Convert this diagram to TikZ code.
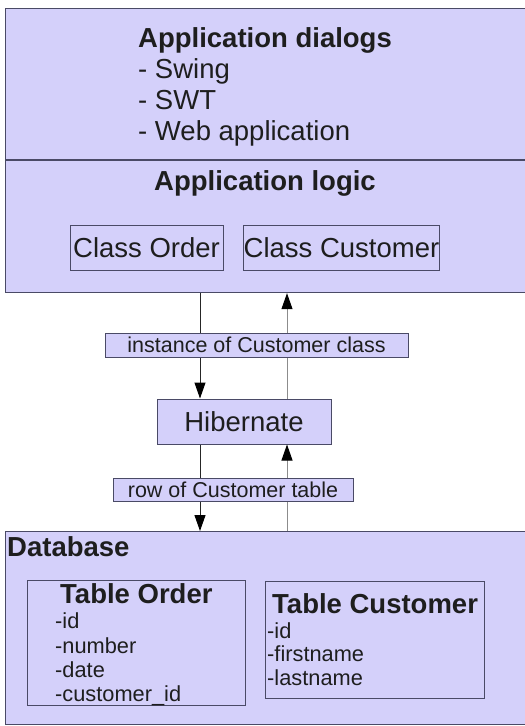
\documentclass[tikz,border=0pt]{standalone}
\usepackage{fontspec}
\setmainfont{Liberation Sans}
\usetikzlibrary{arrows.meta}
\definecolor{lav}{HTML}{D4D0FA}
\definecolor{edge}{HTML}{4A4A66}
\definecolor{ink}{HTML}{1E1E1E}
\begin{document}
\begin{tikzpicture}[x=1pt,y=-1pt,
  layer/.style={draw=edge, fill=lav, line width=1.2pt, inner sep=0pt},
  boxnode/.style={draw=edge, fill=lav, line width=1pt, inner sep=0pt, text=ink, font=\fontsize{27.5}{32}\selectfont},
  lbl/.style={draw=edge, fill=lav, line width=1pt, inner sep=0pt, text=ink, font=\fontsize{21.5}{25}\selectfont},
  big/.style={anchor=base west, inner sep=0pt, text=ink, font=\fontsize{27.5}{32}\selectfont},
  bigb/.style={anchor=base west, inner sep=0pt, text=ink, font=\bfseries\fontsize{27.5}{32}\selectfont},
  item/.style={anchor=base west, inner sep=0pt, text=ink, font=\fontsize{21.8}{25}\selectfont},
  tbl/.style={draw=edge, line width=1pt, inner sep=0pt, anchor=north west},
  arr/.style={line width=1pt, -{Triangle[width=11pt,length=16pt,color=black]}}]
\useasboundingbox (0,0) rectangle (525,726);
\fill[white] (0,0) rectangle (525,726);
% application layer
\node[layer, anchor=north west, minimum width=530pt, minimum height=284pt] (app) at (5,8) {};
\draw[edge, line width=1.2pt] (app.west |- 0,160) -- (app.east |- 0,160);
\node[bigb] (dlg) at (138,47) {Application dialogs};
\node[big] (sw) at (138,78) {- Swing};
\node[big] (swt) at (138,109) {- SWT};
\node[big] (web) at (138,140) {- Web application};
\node[bigb, anchor=base] (logic) at (265,190) {Application logic};
\node[boxnode, minimum width=153pt, minimum height=45pt] (co) at (146.5,247.5) {Class Order};
\node[boxnode, minimum width=195pt, minimum height=45pt] (cc) at (341.5,247.5) {Class Customer};
% hibernate
\node[boxnode, minimum width=174pt, minimum height=45pt] (hib) at (244,421.5) {Hibernate};
% database layer
\node[layer, anchor=north west, minimum width=530pt, minimum height=193pt] (db) at (5,531) {};
\node[bigb] (dbt) at (7,556) {Database};
\node[tbl, minimum width=218pt, minimum height=125pt] (to) at (27,580) {};
\node[bigb] (tot) at (60,603) {Table Order};
\node[item] (to1) at (55,628) {-id};
\node[item] (to2) at (55,653) {-number};
\node[item] (to3) at (55,677) {-date};
\node[item] (to4) at (55,701) {-customer\_id};
\node[tbl, minimum width=219pt, minimum height=117pt] (tc) at (265,581) {};
\node[bigb] (tct) at (272,613) {Table Customer};
\node[item] (tc1) at (267,638) {-id};
\node[item] (tc2) at (267,661) {-firstname};
\node[item] (tc3) at (267,685) {-lastname};
% connectors
\coordinate (lx) at (200,0);
\coordinate (rx) at (287,0);
\draw[arr, color=black!85] (app.south -| lx) -- (hib.north -| lx);
\draw[arr, color=black!45] (hib.north -| rx) -- (app.south -| rx);
\draw[arr, color=black!85] (hib.south -| lx) -- (db.north -| lx);
\draw[arr, color=black!45] (db.north -| rx) -- (hib.south -| rx);
\node[lbl, minimum width=303pt, minimum height=24pt] (inst) at (256.5,345) {instance of Customer class};
\node[lbl, minimum width=240pt, minimum height=23pt] (row) at (233,489.5) {row of Customer table};
\end{tikzpicture}
\end{document}
